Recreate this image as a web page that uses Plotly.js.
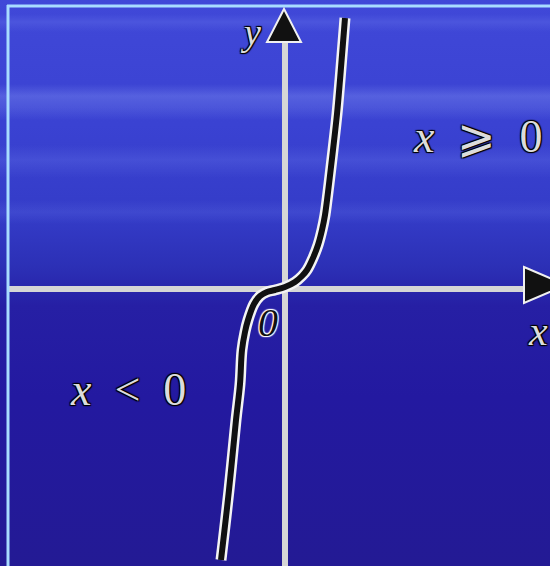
<!DOCTYPE html>
<html>
<head>
<meta charset="utf-8">
<script src="https://cdn.plot.ly/plotly-3.0.1.min.js"></script>
<style>
html,body{margin:0;padding:0;width:550px;height:566px;overflow:hidden;}
body{
 background:
  linear-gradient(to bottom, rgba(0,0,0,0) 0px, rgba(0,0,0,0) 14px, rgba(140,160,255,0.16) 22px, rgba(0,0,0,0) 32px,
    rgba(0,0,0,0) 84px, rgba(160,180,255,0.26) 96px, rgba(160,180,255,0.16) 108px, rgba(0,0,0,0) 120px,
    rgba(0,0,0,0) 145px, rgba(140,160,255,0.16) 160px, rgba(0,0,0,0) 178px,
    rgba(0,0,0,0) 200px, rgba(140,160,255,0.12) 212px, rgba(0,0,0,0) 224px, rgba(0,0,0,0) 566px),
  linear-gradient(to bottom, #4048d8 0%, #3a42d2 22%, #343cc8 38%, #2c30b6 47%, #261fa4 54%, #2319a0 70%, #231a94 100%);
}
#chart{width:550px;height:566px;}
</style>
</head>
<body>
<div id="chart"></div>
<script>
// curve y = x^3 sketch (data units, 1 unit ~ 50px)
const curveX = [-1.28, -1.12, -0.98, -0.90, -0.86, -0.80, -0.74, -0.62, -0.50, -0.36, -0.20, 0.00, 0.20, 0.34, 0.44, 0.56, 0.66, 0.74, 0.80, 0.88, 0.96, 1.04, 1.10, 1.20];
const curveY = [-5.42, -4.02, -2.62, -1.90, -1.22, -0.86, -0.62, -0.30, -0.14, -0.06, -0.02, 0.04, 0.14, 0.26, 0.38, 0.62, 0.88, 1.18, 1.48, 2.10, 2.78, 3.50, 4.18, 5.42];

const labels = {
  y: "<i>y</i>",
  xPos: "<i>x</i>  ⩾  0",
  xNeg: "<i>x</i>  &lt;  0",
  origin: "<i>0</i>",
  xAxis: "<i>x</i>"
};

const W = 550, H = 566;
const px = v => v / W;
const py = v => 1 - v / H;

const xr = [-5.7, 5.3];
const yr = [-5.54, 5.78];

const traces = [
  {x: curveX, y: curveY, mode: 'lines', line: {color: '#f4f4f4', width: 11, shape: 'spline'}, hoverinfo: 'skip'},
  {x: curveX, y: curveY, mode: 'lines', line: {color: '#111111', width: 6, shape: 'spline'}, hoverinfo: 'skip'}
];

function tri(pts){
  return 'M' + pts.map(p => px(p[0]) + ',' + py(p[1])).join(' L') + ' Z';
}

const shapes = [
  {type: 'line', xref: 'paper', yref: 'paper', x0: px(8), x1: px(8), y0: py(5), y1: py(566), line: {color: '#a8dcff', width: 3}, layer: 'above'},
  {type: 'line', xref: 'paper', yref: 'paper', x0: px(7), x1: px(550), y0: py(6), y1: py(6), line: {color: '#a8dcff', width: 3}, layer: 'above'},
  {type: 'line', xref: 'paper', yref: 'y', x0: px(9), x1: px(526), y0: 0, y1: 0, line: {color: '#d6d6d6', width: 6}, layer: 'below'},
  {type: 'line', xref: 'x', yref: 'paper', x0: 0, x1: 0, y0: 0, y1: py(40), line: {color: '#d6d6d6', width: 6}, layer: 'below'},
  {type: 'path', xref: 'paper', yref: 'paper', path: tri([[284, 9], [267, 42], [301, 42]]), fillcolor: '#111111', line: {color: '#f0f0f0', width: 2}, layer: 'above'},
  {type: 'path', xref: 'paper', yref: 'paper', path: tri([[524, 267], [566, 285], [524, 303]]), fillcolor: '#111111', line: {color: '#f0f0f0', width: 2}, layer: 'above'}
];

const shadowDark = '1px 1px 1px #000, -1px -1px 1px #000, 1px -1px 1px #000, -1px 1px 1px #000';
const shadowLight = '1px 1px 1px #fff, -1px -1px 1px #fff, 1px -1px 1px #fff, -1px 1px 1px #fff';
const f = (size, color, shadow) => ({family: 'Liberation Serif, DejaVu Serif, serif', size: size, color: color, shadow: shadow});
const ann = (x, y, text, font) => ({xref: 'paper', yref: 'paper', x: px(x), y: py(y), xanchor: 'center', yanchor: 'middle', text: text, showarrow: false, font: font});

const annotations = [
  ann(250, 32, labels.y, f(38, '#dcdcdc', shadowDark)),
  ann(477, 137, labels.xPos, f(46, '#dcdcdc', shadowDark)),
  ann(128, 389, labels.xNeg, f(46, '#dcdcdc', shadowDark)),
  ann(268, 322, labels.origin, f(40, '#111111', shadowLight)),
  ann(538, 331, labels.xAxis, f(42, '#dcdcdc', shadowDark))
];

const layout = {
  width: W, height: H,
  margin: {l: 0, r: 0, t: 0, b: 0},
  paper_bgcolor: 'rgba(0,0,0,0)',
  plot_bgcolor: 'rgba(0,0,0,0)',
  showlegend: false,
  xaxis: {range: xr, showgrid: false, zeroline: false, showticklabels: false, ticks: '', fixedrange: true},
  yaxis: {range: yr, showgrid: false, zeroline: false, showticklabels: false, ticks: '', fixedrange: true},
  shapes: shapes,
  annotations: annotations
};

Plotly.newPlot('chart', traces, layout, {displayModeBar: false, staticPlot: true});
</script>
</body>
</html>
